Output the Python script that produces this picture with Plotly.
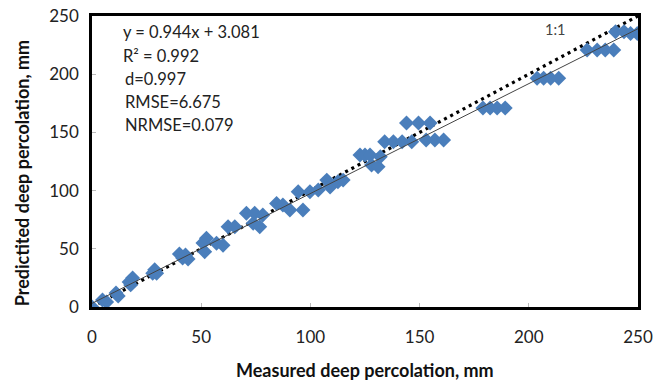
import plotly.graph_objects as go

measured = [0, 4.8, 6.7, 11, 12, 17, 18.6, 17.7, 27.8, 28.7, 29.6, 40, 41.5, 42.8, 44,
            50.8, 52.4, 51.6, 57, 60, 62.3, 65.4, 70.7, 73.8, 74.5, 76.8, 78.2,
            84.5, 87.4, 90.6, 96.6, 94.4, 99.8, 103.6, 107.5, 109, 112.6, 115,
            122.7, 125, 127.3, 128, 131, 132, 134, 138, 142, 146.4, 144, 149.5, 154.8,
            153, 157, 161, 179, 182.3, 185.5, 189.2, 203.8, 206.8, 210, 213.7,
            226.7, 231.3, 235, 238.9, 239.7, 243.6, 246.6, 249.7]
predicted = [0, 6, 4.3, 12, 9.5, 21.5, 25, 19, 29, 32, 29, 45.5, 42, 44.7, 41.2,
             55, 59, 47.5, 54.7, 53, 69, 69, 80.5, 72, 80.5, 69, 79,
             89, 87.6, 83.3, 83.3, 99, 99, 100.5, 109, 103, 107.6, 109,
             130.6, 130.6, 130.6, 122, 120.5, 129, 142, 142, 142, 142, 158, 158, 158,
             143.5, 143.5, 143.5, 171, 171, 171, 171, 196.5, 196.5, 196.5, 196.5,
             220.8, 220.8, 220.8, 220.8, 236.5, 236.5, 235, 235]

slope, intercept = 0.944, 3.081
line_x = [0, 250]
line_y = [intercept + slope * v for v in line_x]
one_x = [0, 250]
one_y = [0, 250]

stats = ["y = 0.944x + 3.081", "R² = 0.992", "d=0.997", "RMSE=6.675", "NRMSE=0.079"]
x_ticks = [0, 50, 100, 150, 200, 250]
x_title = "Measured deep percolation, mm"
y_title = "Predictited deep percolation, mm"

FONT = "Lato, 'Open Sans', sans-serif"

fig = go.Figure()
fig.add_trace(go.Scatter(x=one_x, y=one_y, mode="lines",
                         line=dict(color="black", width=3.2, dash="3px,4px"),
                         hoverinfo="skip"))
fig.add_trace(go.Scatter(x=measured, y=predicted, mode="markers",
                         marker=dict(symbol="diamond", size=11.5, color="#4a7ebb",
                                     line=dict(width=0))))
fig.add_trace(go.Scatter(x=line_x, y=line_y, mode="lines",
                         line=dict(color="#444444", width=1)))

y_pos = [236, 216, 196, 176, 156]
x_pos = [13.3, 13.3, 14.0, 14.4, 14.4]
for t, xp, yp in zip(stats, x_pos, y_pos):
    fig.add_annotation(x=xp, y=yp, text=t, showarrow=False, xanchor="left",
                       yanchor="middle", font=dict(family=FONT, size=16.5, color="#222"))
fig.add_annotation(x=212, y=238, text="1:1", showarrow=False, xanchor="center",
                   yanchor="middle", font=dict(family=FONT, size=14.5, color="#444"))

fig.add_annotation(xref="paper", yref="paper", x=0.5, y=-0.218, text="<b>" + x_title + "</b>",
                   showarrow=False, xanchor="center", yanchor="middle",
                   font=dict(family=FONT, size=18, color="#111"))
fig.add_annotation(xref="paper", yref="paper", x=-0.128, y=0.46, text="<b>" + y_title + "</b>",
                   showarrow=False, xanchor="center", yanchor="middle", textangle=-90,
                   font=dict(family=FONT, size=18, color="#111"))

fig.update_layout(
    width=668, height=385,
    margin=dict(l=92, r=30, t=16, b=78),
    paper_bgcolor="white", plot_bgcolor="white",
    showlegend=False,
    font=dict(family=FONT, size=17, color="#222"),
)
fig.update_xaxes(range=[0, 250], tickvals=x_ticks, showgrid=False, zeroline=False,
                 showline=True, linecolor="black", linewidth=2.5, mirror=True,
                 ticks="inside", ticklen=4, tickcolor="#bbbbbb", ticklabelstandoff=13,
                 automargin=False,
                 tickfont=dict(family=FONT, size=17, color="#222"))
fig.update_yaxes(range=[0, 250], tickvals=x_ticks, showgrid=False, zeroline=False,
                 showline=True, linecolor="black", linewidth=2.5, mirror=True,
                 ticks="inside", ticklen=4, tickcolor="#bbbbbb", ticklabelstandoff=7,
                 automargin=False,
                 tickfont=dict(family=FONT, size=17, color="#222"))

fig.write_html("out.html")
